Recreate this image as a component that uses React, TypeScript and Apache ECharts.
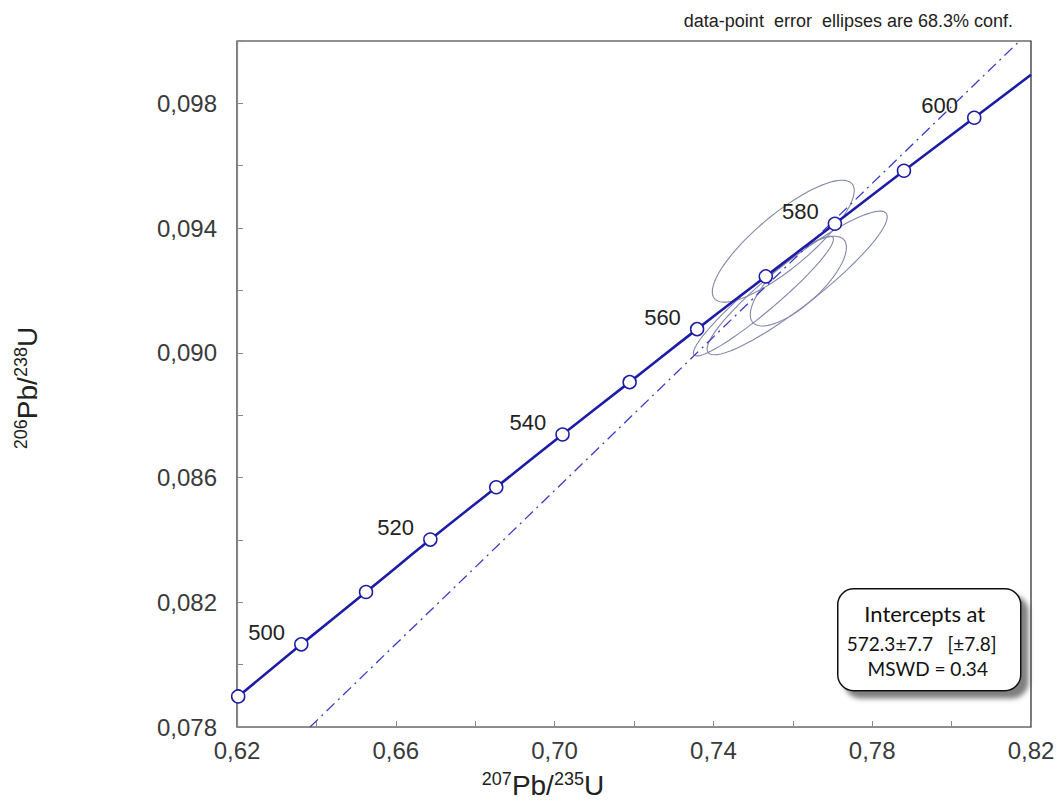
import React, { useEffect, useRef } from "react";
import * as echarts from "echarts";

// Concordia reference points (age in Ma, 207Pb/235U, 206Pb/238U)
const concAges = [490, 500, 510, 520, 530, 540, 550, 560, 570, 580, 590, 600];
const concX = [0.6203, 0.6362, 0.6525, 0.6687, 0.6853, 0.702, 0.7189, 0.7359, 0.7532, 0.7706, 0.788, 0.8057];
const concY = [0.07898, 0.08065, 0.08233, 0.08401, 0.08569, 0.08738, 0.08906, 0.09076, 0.09245, 0.09414, 0.09584, 0.09754];
// concordia continues to the right frame edge
const concEndX = 0.82;
const concEndY = 0.09892;

// Discordia (dash-dot) end points
const discX = [0.6384, 0.8171];
const discY = [0.078, 0.1];

// Data-point error ellipses: centre, 1 sigma, error correlation
const ellX = [0.7576, 0.7611, 0.7614, 0.7526];
const ellY = [0.09358, 0.09224, 0.0923, 0.09182];
const ellSx = [0.01180, 0.01497, 0.00799, 0.01164];
const ellSy = [0.001290, 0.001521, 0.00095, 0.001267];
const ellRho = [0.83, 0.92, 0.75, 0.95];

const X_MIN = 0.62, X_MAX = 0.82, X_STEP = 0.02;
const Y_MIN = 0.078, Y_MAX = 0.1, Y_STEP = 0.002;

const K68 = 1.515; // sqrt(chi2 2 dof, 68.3%)

export default function App() {
  const ref = useRef<HTMLDivElement>(null);
  useEffect(() => {
    if (!ref.current) return;
    const chart = echarts.init(ref.current, null, { renderer: "svg" });
    const font = "'Liberation Sans', Arial, sans-serif";
    const boxFont = "Lato, 'Open Sans', sans-serif";

    const ellData = ellX.map((x, i) => [x, ellY[i], ellSx[i], ellSy[i], ellRho[i]]);
    const markerData = concAges.map((a, i) => [concX[i], concY[i], a]);
    const lineData = concX.map((x, i) => [x, concY[i]]).concat([[concEndX, concEndY]]);
    const discData = discX.map((x, i) => [x, discY[i]]);

    const option: any = {
      animation: false,
      backgroundColor: "#ffffff",
      grid: {
        left: 237,
        right: 28,
        top: 41,
        bottom: 76,
        show: true,
        borderColor: "#222",
        borderWidth: 1.2,
        backgroundColor: "transparent",
      },
      xAxis: {
        type: "value",
        min: X_MIN,
        max: X_MAX,
        interval: X_STEP,
        axisLine: { show: true, lineStyle: { color: "#8a8a8a", width: 1.2 } },
        axisTick: { show: true, inside: true, length: 6, lineStyle: { color: "#8a8a8a" } },
        splitLine: { show: false },
        axisLabel: {
          margin: 11,
          fontSize: 24,
          fontFamily: font,
          color: "#3a3a3a",
          formatter: (v: number) => {
            const k = Math.round((v - X_MIN) / X_STEP);
            return k % 2 === 0 ? v.toFixed(2).replace(".", ",") : "";
          },
        },
      },
      yAxis: {
        type: "value",
        min: Y_MIN,
        max: Y_MAX,
        interval: Y_STEP,
        axisLine: { show: true, lineStyle: { color: "#8a8a8a", width: 1.2 } },
        axisTick: { show: true, inside: true, length: 6, lineStyle: { color: "#8a8a8a" } },
        splitLine: { show: false },
        axisLabel: {
          margin: 20,
          fontSize: 24,
          fontFamily: font,
          color: "#3a3a3a",
          formatter: (v: number) => {
            const k = Math.round((v - Y_MIN) / Y_STEP);
            return k % 2 === 0 && k < 11 ? v.toFixed(3).replace(".", ",") : "";
          },
        },
      },
      series: [
        {
          type: "custom",
          name: "ellipses",
          data: ellData,
          encode: { x: 0, y: 1 },
          clip: true,
          z: 2,
          renderItem: (params: any, api: any) => {
            const cx = api.value(0), cy = api.value(1), sx = api.value(2), sy = api.value(3), r = api.value(4);
            const pts: number[][] = [];
            const n = 120;
            for (let j = 0; j < n; j++) {
              const t = (j / n) * Math.PI * 2;
              const dx = K68 * sx * Math.cos(t);
              const dy = K68 * sy * (r * Math.cos(t) + Math.sqrt(1 - r * r) * Math.sin(t));
              pts.push(api.coord([cx + dx, cy + dy]));
            }
            return {
              type: "polygon",
              shape: { points: pts },
              style: { fill: "none", stroke: "#8487ad", lineWidth: 1.1 },
            };
          },
        },
        {
          type: "line",
          name: "discordia",
          data: discData,
          symbol: "none",
          z: 3,
          lineStyle: { color: "#3b3bc4", width: 1.3, type: [11, 5, 2, 5] },
        },
        {
          type: "line",
          name: "concordia",
          data: lineData,
          symbol: "none",
          smooth: true,
          z: 4,
          lineStyle: { color: "#1c1ca6", width: 2.6 },
        },
        {
          type: "scatter",
          name: "ages",
          data: markerData,
          symbol: "circle",
          symbolSize: 13,
          z: 5,
          itemStyle: { color: "#ffffff", borderColor: "#1c1ca6", borderWidth: 1.5, opacity: 1 },
          label: {
            show: true,
            position: "left",
            distance: 9,
            offset: [0, -12],
            fontSize: 22,
            fontFamily: font,
            color: "#222",
            formatter: (p: any) => (p.value[2] % 20 === 0 ? String(p.value[2]) : ""),
          },
        },
      ],
      graphic: [
        {
          type: "text",
          right: 1059 - 1013,
          top: 12,
          style: {
            text: "data-point  error  ellipses are 68.3% conf.",
            fontSize: 18,
            fontFamily: font,
            fill: "#222",
          },
        },
        {
          type: "text",
          x: 543,
          y: 785,
          style: {
            text: "{s|207}{b|Pb/}{s|235}{b|U}",
            align: "center",
            verticalAlign: "middle",
            rich: {
              s: { fontSize: 18, fontFamily: font, fill: "#222", verticalAlign: "top", lineHeight: 18 },
              b: { fontSize: 28, fontFamily: font, fill: "#222", lineHeight: 30 },
            },
          },
        },
        {
          type: "text",
          x: 27,
          y: 388,
          rotation: Math.PI / 2,
          style: {
            text: "{s|206}{b|Pb/}{s|238}{b|U}",
            align: "center",
            verticalAlign: "middle",
            rich: {
              s: { fontSize: 18, fontFamily: font, fill: "#222", verticalAlign: "top", lineHeight: 18 },
              b: { fontSize: 28, fontFamily: font, fill: "#222", lineHeight: 30 },
            },
          },
        },
        {
          type: "group",
          left: 837,
          top: 588,
          children: [
            {
              type: "rect",
              shape: { x: 0, y: 0, width: 183, height: 102, r: 16 },
              style: {
                fill: "#ffffff",
                stroke: "#111",
                lineWidth: 1.5,
                shadowBlur: 5,
                shadowOffsetX: 7,
                shadowOffsetY: 7,
                shadowColor: "rgba(0,0,0,0.5)",
              },
            },
            {
              type: "text",
              x: 87,
              y: 25,
              style: { text: "Intercepts at", align: "center", verticalAlign: "middle", fontSize: 22, fontFamily: boxFont, fill: "#111" },
            },
            {
              type: "text",
              x: 84,
              y: 55,
              style: { text: "572.3±7.7   [±7.8]", align: "center", verticalAlign: "middle", fontSize: 19, fontFamily: boxFont, fill: "#111" },
            },
            {
              type: "text",
              x: 90,
              y: 80,
              style: { text: "MSWD = 0.34", align: "center", verticalAlign: "middle", fontSize: 19, fontFamily: boxFont, fill: "#111" },
            },
          ],
        },
      ],
    };
    chart.setOption(option);
    return () => chart.dispose();
  }, []);
  return (
    <div
      ref={ref}
      style={{ position: "fixed", left: 0, top: 0, width: 1059, height: 803, background: "#fff" }}
    />
  );
}
